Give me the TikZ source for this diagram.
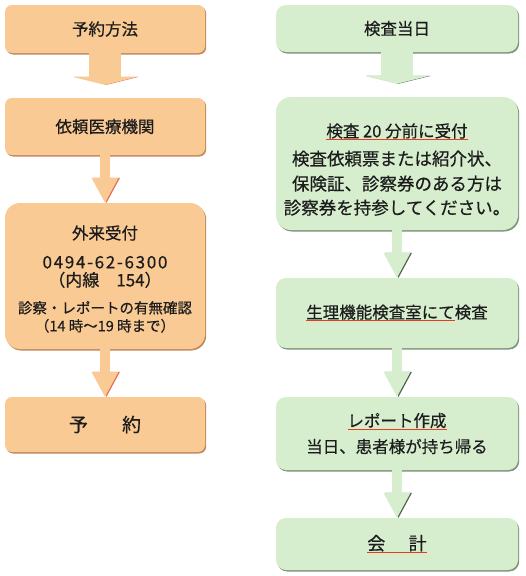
\documentclass[tikz,border=0pt]{standalone}
\usepackage{fontspec}
\setmainfont{Noto Sans CJK JP}[FakeBold=0.5]
\usepackage{tikz}
\usetikzlibrary{arrows.meta,shadows}

\definecolor{peach}{RGB}{249,202,148}
\definecolor{peachshade}{RGB}{196,136,92}
\definecolor{peachedge}{RGB}{226,112,88}
\definecolor{mint}{RGB}{214,238,206}
\definecolor{mintshade}{RGB}{126,150,124}
\definecolor{mintedge}{RGB}{78,98,78}
\definecolor{ulred}{RGB}{234,58,32}
\definecolor{ink}{RGB}{28,28,28}

\newcommand{\fsz}[1]{\fontsize{#1}{18pt}\selectfont}
\newcommand{\redul}[1]{\setbox0\hbox{#1}\leavevmode\rlap{\color{ulred}\rule[-3pt]{\wd0}{1.3pt}}\box0}

\begin{document}
\begin{tikzpicture}[
  x=1pt, y=-1pt,
  lbox/.style={fill=peach, rounded corners=7pt, minimum width=200pt,
    align=center, text=ink, inner sep=0pt, font=\fsz{16.5},
    drop shadow={shadow xshift=1.2pt, shadow yshift=-1.5pt,
      fill=peachshade, opacity=1}},
  rbox/.style={fill=mint, rounded corners=10pt, minimum width=242pt,
    align=center, text=ink, inner sep=0pt, font=\fsz{16.5},
    drop shadow={shadow xshift=1.2pt, shadow yshift=-1.5pt,
      fill=mintshade, opacity=1}},
  widearr/.style={line width=32pt,
    -{Triangle[length=8pt, width=65pt, line width=0pt]}, shorten >=13pt},
  thinarr/.style={line width=10pt,
    -{Triangle[length=25pt, width=27pt, line width=0pt]}},
  larr/.style={draw=peach,
    preaction={draw=peachedge, transform canvas={xshift=1.5pt}}},
  rarr/.style={draw=mint,
    preaction={draw=mintedge, transform canvas={xshift=1.5pt}}},
]
  \fill[white] (0,0) rectangle (526,576);
  \useasboundingbox (0,0) rectangle (526,576);

  % Left column: booking
  \node[lbox, minimum height=48pt] (plan) at (105,29) {予約方法};
  \node[lbox, minimum height=57pt] (clinic) at (105,126.5) {依頼医療機関};
  \node[lbox, rounded corners=15pt, minimum height=146pt] (desk) at (105,276)
    {\rule{0pt}{20pt}外来受付\\[11pt]
     \fsz{17}\addfontfeature{LetterSpace=10}0494-62-6300\\
     \fsz{17}（内線　154）\\[9pt]
     \fsz{14.5}診察・レポートの有無確認\\
     \fsz{14.5}（14 時〜19 時まで）};
  \node[lbox, minimum height=55pt, font=\fsz{19}] (booked) at (105,424.5)
    {予\hspace{1.8em}約};

  % Right column: exam day
  \node[rbox, minimum height=47pt] (today) at (397,28.5) {検査当日};
  \node[rbox, rounded corners=15pt, minimum height=133pt] (checkin) at (397,163.5)
    {\rule{0pt}{26pt}\redul{検査 20 分前に受付}\\[10pt]
     \fsz{17.5}検査依頼票または紹介状、\\[7pt]
     \fsz{17.5}保険証、診察券のある方は\\[6pt]
     \fsz{17.5}診察券を持参してください。};
  \node[rbox, minimum height=70pt] (exam) at (397,313)
    {\redul{生理機能検査室にて}検査};
  \node[rbox, minimum height=73pt] (report) at (397,433.5)
    {\redul{レポート作成}\\[8pt]当日、患者様が持ち帰る};
  \node[rbox, minimum height=52pt, font=\fsz{18}] (billing) at (397,544)
    {\redul{会\hspace{1.3em}計}};

  % Arrows
  \draw[widearr, larr] (plan) -- (clinic);
  \draw[thinarr, larr] (clinic) -- (desk);
  \draw[thinarr, larr] (desk) -- (booked);
  \draw[widearr, rarr] (today) -- (checkin);
  \draw[thinarr, rarr] (checkin) -- (exam);
  \draw[thinarr, rarr] (exam) -- (report);
  \draw[thinarr, rarr] (report) -- (billing);
\end{tikzpicture}
\end{document}
